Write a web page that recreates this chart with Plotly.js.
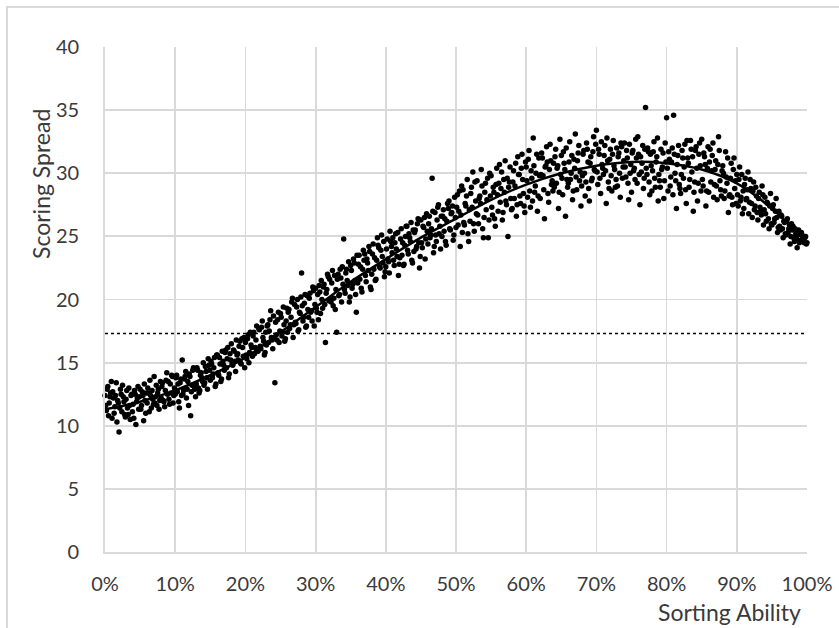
<!DOCTYPE html>
<html>
<head>
<meta charset="utf-8">
<script src="https://cdn.plot.ly/plotly-3.0.1.min.js"></script>
<style>
html,body{margin:0;padding:0;background:#fff;overflow:hidden;}
#wrap{position:relative;width:839px;height:628px;}
#chart{position:absolute;left:0;top:0;width:839px;height:628px;}
#frame{position:absolute;left:6px;top:6px;width:833px;height:622px;border-top:2px solid #d9d9d9;border-left:2px solid #d9d9d9;box-sizing:border-box;pointer-events:none;}
</style>
</head>
<body>
<div id="wrap"><div id="chart"></div><div id="frame"></div></div>
<script>
// Sorting ability (%) for the first group of points
const sortingAbilityA = [
0,0.2,0.4,0.6,0.8, 1,1.2,1.4,1.6,1.8, 2,2.2,2.4,2.6,2.8, 3,3.2,3.4,3.6,3.8, 4,4.2,4.4,4.6,4.8,
5,5.2,5.4,5.6,5.8, 6,6.2,6.4,6.6,6.8, 7,7.2,7.4,7.6,7.8, 8,8.2,8.4,8.6,8.8, 9,9.2,9.4,9.6,9.8,
10,10.2,10.4,10.6,10.8, 11,11.2,11.4,11.6,11.8, 12,12.2,12.4,12.6,12.8, 13,13.2,13.4,13.6,13.8, 14,14.2,14.4,14.6,14.8,
15,15.2,15.4,15.6,15.8, 16,16.2,16.4,16.6,16.8, 17,17.2,17.4,17.6,17.8, 18,18.2,18.4,18.6,18.8, 19,19.2,19.4,19.6,19.8,
20,20.2,20.4,20.6,20.8, 21,21.2,21.4,21.6,21.8, 22,22.2,22.4,22.6,22.8, 23,23.2,23.4,23.6,23.8, 24,24.2,24.4,24.6,24.8,
25,25.2,25.4,25.6,25.8, 26,26.2,26.4,26.6,26.8, 27,27.2,27.4,27.6,27.8, 28,28.2,28.4,28.6,28.8, 29,29.2,29.4,29.6,29.8,
30,30.2,30.4,30.6,30.8, 31,31.2,31.4,31.6,31.8, 32,32.2,32.4,32.6,32.8, 33,33.2,33.4,33.6,33.8, 34,34.2,34.4,34.6,34.8,
35,35.2,35.4,35.6,35.8, 36,36.2,36.4,36.6,36.8, 37,37.2,37.4,37.6,37.8, 38,38.2,38.4,38.6,38.8, 39,39.2,39.4,39.6,39.8,
40,40.2,40.4,40.6,40.8, 41,41.2,41.4,41.6,41.8, 42,42.2,42.4,42.6,42.8, 43,43.2,43.4,43.6,43.8, 44,44.2,44.4,44.6,44.8,
45,45.2,45.4,45.6,45.8, 46,46.2,46.4,46.6,46.8, 47,47.2,47.4,47.6,47.8, 48,48.2,48.4,48.6,48.8, 49,49.2,49.4,49.6,49.8,
50,50.2,50.4,50.6,50.8, 51,51.2,51.4,51.6,51.8, 52,52.2,52.4,52.6,52.8, 53,53.2,53.4,53.6,53.8, 54,54.2,54.4,54.6,54.8,
55,55.2,55.4,55.6,55.8, 56,56.2,56.4,56.6,56.8, 57,57.2,57.4,57.6,57.8, 58,58.2,58.4,58.6,58.8, 59,59.2,59.4,59.6,59.8,
60,60.2,60.4,60.6,60.8, 61,61.2,61.4,61.6,61.8, 62,62.2,62.4,62.6,62.8, 63,63.2,63.4,63.6,63.8, 64,64.2,64.4,64.6,64.8,
65,65.2,65.4,65.6,65.8, 66,66.2,66.4,66.6,66.8, 67,67.2,67.4,67.6,67.8, 68,68.2,68.4,68.6,68.8, 69,69.2,69.4,69.6,69.8,
70,70.2,70.4,70.6,70.8, 71,71.2,71.4,71.6,71.8, 72,72.2,72.4,72.6,72.8, 73,73.2,73.4,73.6,73.8, 74,74.2,74.4,74.6,74.8,
75,75.2,75.4,75.6,75.8, 76,76.2,76.4,76.6,76.8, 77,77.2,77.4,77.6,77.8, 78,78.2,78.4,78.6,78.8, 79,79.2,79.4,79.6,79.8,
80,80.2,80.4,80.6,80.8, 81,81.2,81.4,81.6,81.8, 82,82.2,82.4,82.6,82.8, 83,83.2,83.4,83.6,83.8, 84,84.2,84.4,84.6,84.8,
85,85.2,85.4,85.6,85.8, 86,86.2,86.4,86.6,86.8, 87,87.2,87.4,87.6,87.8, 88,88.2,88.4,88.6,88.8, 89,89.2,89.4,89.6,89.8,
90,90.2,90.4,90.6,90.8, 91,91.2,91.4,91.6,91.8, 92,92.2,92.4,92.6,92.8, 93,93.2,93.4,93.6,93.8, 94,94.2,94.4,94.6,94.8,
95,95.2,95.4,95.6,95.8, 96,96.2,96.4,96.6,96.8, 97,97.2,97.4,97.6,97.8, 98,98.2,98.4,98.6,98.8, 99,99.2,99.4,99.6,99.8,
100
];

// Scoring spread for the first group
const scoringSpreadA = [
12.4,11.2,13.1,11.8,12.6, 10.6,12.2,11.5,13.4,12.0, 9.5,12.9,11.1,12.3,10.9, 12.1,11.4,13.0,10.5,12.5, 11.7,12.8,10.1,12.2,11.3,
12.9,11.6,12.4,13.3,11.0, 11.8,12.6,13.6,11.4,12.1, 13.9,12.3,11.6,12.9,12.0, 12.2,13.4,11.9,12.8,14.2, 13.5,11.7,12.6,13.9,12.4,
12.5,14.0,13.3,11.4,13.7, 15.2,12.8,13.9,12.2,13.5, 14.1,10.8,13.2,14.6,12.9, 13.3,14.4,12.6,14.0,13.8, 15.0,13.4,14.3,12.9,14.8,
13.6,14.9,14.1,15.4,13.3, 15.6,14.0,14.9,13.7,15.1, 14.4,16.0,15.3,13.8,15.7, 16.5,14.8,15.9,14.3,15.6, 15.2,16.7,14.9,16.2,17.0,
16.6,15.3,17.2,15.8,16.4, 15.5,17.4,16.2,17.9,15.9, 17.6,16.1,18.3,16.7,15.8, 16.4,18.0,17.5,19.1,16.8, 18.7,13.4,17.2,18.4,16.6,
18.9,17.1,19.4,16.7,18.3, 17.4,19.2,18.0,19.8,17.0, 19.6,18.1,20.0,17.6,18.9, 22.1,18.3,19.7,17.8,20.3, 18.6,20.5,19.1,21.0,17.9,
20.9,19.0,18.4,20.6,21.5, 19.3,21.2,16.6,20.8,21.8, 21.6,19.8,22.3,20.1,19.2, 17.4,22.0,20.4,21.7,22.6, 24.8,20.5,22.4,21.1,19.8,
22.7,20.9,23.2,21.5,19.0, 21.3,23.5,22.6,20.6,23.9, 23.6,21.4,22.9,24.2,21.0, 22.0,24.4,23.3,21.6,24.9, 24.1,22.5,25.1,22.9,21.8,
22.6,24.8,23.0,25.4,24.2, 24.9,22.7,25.2,23.4,21.9, 23.3,25.6,24.5,22.8,25.0, 25.8,23.6,24.9,26.1,22.9, 23.8,25.5,24.2,26.4,22.5,
26.3,24.1,25.7,23.2,26.8, 24.4,26.6,25.1,29.6,23.7, 26.9,24.6,27.3,25.2,24.0, 25.0,27.1,26.4,24.3,27.6, 27.8,25.5,26.9,24.7,28.1,
25.7,28.3,27.0,24.2,29.0, 28.7,25.9,27.4,29.5,24.6, 26.2,28.9,30.1,25.4,27.8, 29.4,26.0,28.2,30.3,25.6, 26.5,29.2,27.9,24.9,30.0,
29.8,26.7,28.5,25.8,30.4, 27.0,30.7,28.8,26.3,29.5, 31.0,27.5,25.0,29.3,28.0, 27.2,30.2,29.0,26.6,31.3, 29.9,27.6,31.5,28.4,26.9,
30.5,28.1,31.8,27.3,29.6, 32.8,28.5,30.0,27.0,31.2, 28.0,31.6,29.8,26.4,30.6, 30.9,27.7,32.3,29.1,28.6, 28.9,31.9,30.4,27.2,32.7,
31.4,28.3,30.8,26.6,29.5, 29.2,32.5,30.0,27.9,31.1, 33.1,28.7,31.6,29.4,27.4, 29.8,31.8,28.2,32.4,30.9, 27.8,31.3,29.6,32.9,30.2,
33.4,29.1,31.5,28.4,30.7, 29.9,32.2,27.6,31.0,28.8, 31.9,28.6,32.6,30.3,29.5, 29.0,31.6,28.1,32.1,30.5, 32.4,29.7,31.2,27.9,30.0,
28.5,31.8,30.4,32.7,29.2, 31.5,27.5,30.1,32.2,29.6, 35.2,29.9,31.7,28.3,30.6, 30.2,32.5,28.9,31.3,27.8, 29.4,31.9,30.5,28.0,32.4,
34.4,28.6,31.1,29.7,32.0, 34.6,30.0,27.2,31.4,29.1, 28.4,31.8,29.6,32.3,27.6, 31.2,28.9,32.6,30.1,27.0, 29.3,32.1,27.8,31.5,30.6,
32.7,29.0,31.3,27.4,30.4, 28.5,31.9,30.2,32.4,29.1, 31.0,27.9,32.9,29.4,28.2, 30.6,28.0,31.7,29.2,26.9, 28.3,30.8,27.5,31.2,29.4,
29.9,27.4,30.5,28.1,26.8, 27.2,29.6,28.0,30.1,27.7, 28.8,26.5,29.3,27.4,28.2, 26.3,28.5,27.0,29.0,25.9, 28.1,26.2,27.6,25.6,28.4,
25.9,27.5,26.4,28.0,25.3, 27.0,25.5,26.6,24.9,26.1, 25.1,26.4,25.6,24.4,26.0, 25.8,24.6,25.2,24.1,25.5, 24.6,25.3,24.8,24.5,25.0,
24.5
];

// Sorting ability (%) for the second group of points
const sortingAbilityB = [
0.1,0.3,0.5,0.7,0.9, 1.1,1.3,1.5,1.7,1.9, 2.1,2.3,2.5,2.7,2.9, 3.1,3.3,3.5,3.7,3.9, 4.1,4.3,4.5,4.7,4.9,
5.1,5.3,5.5,5.7,5.9, 6.1,6.3,6.5,6.7,6.9, 7.1,7.3,7.5,7.7,7.9, 8.1,8.3,8.5,8.7,8.9, 9.1,9.3,9.5,9.7,9.9,
10.1,10.3,10.5,10.7,10.9, 11.1,11.3,11.5,11.7,11.9, 12.1,12.3,12.5,12.7,12.9, 13.1,13.3,13.5,13.7,13.9, 14.1,14.3,14.5,14.7,14.9,
15.1,15.3,15.5,15.7,15.9, 16.1,16.3,16.5,16.7,16.9, 17.1,17.3,17.5,17.7,17.9, 18.1,18.3,18.5,18.7,18.9, 19.1,19.3,19.5,19.7,19.9,
20.1,20.3,20.5,20.7,20.9, 21.1,21.3,21.5,21.7,21.9, 22.1,22.3,22.5,22.7,22.9, 23.1,23.3,23.5,23.7,23.9, 24.1,24.3,24.5,24.7,24.9,
25.1,25.3,25.5,25.7,25.9, 26.1,26.3,26.5,26.7,26.9, 27.1,27.3,27.5,27.7,27.9, 28.1,28.3,28.5,28.7,28.9, 29.1,29.3,29.5,29.7,29.9,
30.1,30.3,30.5,30.7,30.9, 31.1,31.3,31.5,31.7,31.9, 32.1,32.3,32.5,32.7,32.9, 33.1,33.3,33.5,33.7,33.9, 34.1,34.3,34.5,34.7,34.9,
35.1,35.3,35.5,35.7,35.9, 36.1,36.3,36.5,36.7,36.9, 37.1,37.3,37.5,37.7,37.9, 38.1,38.3,38.5,38.7,38.9, 39.1,39.3,39.5,39.7,39.9,
40.1,40.3,40.5,40.7,40.9, 41.1,41.3,41.5,41.7,41.9, 42.1,42.3,42.5,42.7,42.9, 43.1,43.3,43.5,43.7,43.9, 44.1,44.3,44.5,44.7,44.9,
45.1,45.3,45.5,45.7,45.9, 46.1,46.3,46.5,46.7,46.9, 47.1,47.3,47.5,47.7,47.9, 48.1,48.3,48.5,48.7,48.9, 49.1,49.3,49.5,49.7,49.9,
50.1,50.3,50.5,50.7,50.9, 51.1,51.3,51.5,51.7,51.9, 52.1,52.3,52.5,52.7,52.9, 53.1,53.3,53.5,53.7,53.9, 54.1,54.3,54.5,54.7,54.9,
55.1,55.3,55.5,55.7,55.9, 56.1,56.3,56.5,56.7,56.9, 57.1,57.3,57.5,57.7,57.9, 58.1,58.3,58.5,58.7,58.9, 59.1,59.3,59.5,59.7,59.9,
60.1,60.3,60.5,60.7,60.9, 61.1,61.3,61.5,61.7,61.9, 62.1,62.3,62.5,62.7,62.9, 63.1,63.3,63.5,63.7,63.9, 64.1,64.3,64.5,64.7,64.9,
65.1,65.3,65.5,65.7,65.9, 66.1,66.3,66.5,66.7,66.9, 67.1,67.3,67.5,67.7,67.9, 68.1,68.3,68.5,68.7,68.9, 69.1,69.3,69.5,69.7,69.9,
70.1,70.3,70.5,70.7,70.9, 71.1,71.3,71.5,71.7,71.9, 72.1,72.3,72.5,72.7,72.9, 73.1,73.3,73.5,73.7,73.9, 74.1,74.3,74.5,74.7,74.9,
75.1,75.3,75.5,75.7,75.9, 76.1,76.3,76.5,76.7,76.9, 77.1,77.3,77.5,77.7,77.9, 78.1,78.3,78.5,78.7,78.9, 79.1,79.3,79.5,79.7,79.9,
80.1,80.3,80.5,80.7,80.9, 81.1,81.3,81.5,81.7,81.9, 82.1,82.3,82.5,82.7,82.9, 83.1,83.3,83.5,83.7,83.9, 84.1,84.3,84.5,84.7,84.9,
85.1,85.3,85.5,85.7,85.9, 86.1,86.3,86.5,86.7,86.9, 87.1,87.3,87.5,87.7,87.9, 88.1,88.3,88.5,88.7,88.9, 89.1,89.3,89.5,89.7,89.9,
90.1,90.3,90.5,90.7,90.9, 91.1,91.3,91.5,91.7,91.9, 92.1,92.3,92.5,92.7,92.9, 93.1,93.3,93.5,93.7,93.9, 94.1,94.3,94.5,94.7,94.9,
95.1,95.3,95.5,95.7,95.9, 96.1,96.3,96.5,96.7,96.9, 97.1,97.3,97.5,97.7,97.9, 98.1,98.3,98.5,98.7,98.9, 99.1,99.3,99.5,99.7,99.9
];

// Scoring spread for the second group
const scoringSpreadB = [
11.6,12.9,10.8,12.3,13.5, 12.7,11.0,12.4,10.3,11.8, 11.4,12.5,13.2,11.9,10.7, 12.8,10.9,11.6,12.4,11.1, 10.6,12.5,11.9,13.1,12.3,
11.3,12.7,10.4,12.0,12.6, 13.0,11.1,12.4,12.8,11.7, 11.8,13.2,12.6,11.3,13.5, 13.1,12.0,11.5,13.6,12.5, 12.1,13.3,14.0,11.8,13.0,
13.8,12.7,11.9,13.4,12.4, 12.5,13.7,14.3,12.9,11.6, 13.9,12.7,14.4,13.1,12.3, 14.6,13.0,12.8,14.2,13.5, 13.2,14.7,13.8,15.3,14.4,
15.1,13.8,14.6,13.1,15.6, 14.2,15.4,13.5,15.9,14.8, 15.8,14.6,16.2,14.1,15.2, 14.9,16.0,15.1,16.8,15.7, 16.3,15.0,16.9,15.5,14.6,
15.6,16.9,15.0,17.4,16.2, 17.1,15.7,16.8,16.0,17.7, 16.3,17.8,17.0,15.6,17.4, 17.9,16.6,18.4,17.0,16.1, 17.0,18.2,16.8,19.0,17.5,
18.6,17.4,18.0,16.9,19.3, 19.0,17.7,18.6,20.1,18.0, 18.2,19.4,17.5,19.0,20.2, 19.5,18.6,20.4,17.9,19.2, 20.1,19.0,18.3,20.7,19.6,
19.3,20.4,21.1,18.9,20.0, 21.0,19.6,20.5,22.0,19.9, 20.0,21.3,19.5,21.9,20.8, 21.6,20.3,22.4,19.8,21.2, 20.8,22.1,21.5,23.0,20.2,
22.3,21.2,22.9,20.4,23.5, 22.8,21.6,20.9,22.4,23.1, 21.9,23.2,22.3,23.8,20.8, 23.6,22.4,21.5,23.1,24.3, 22.6,23.9,23.4,24.6,22.2,
24.0,23.2,22.1,24.6,23.7, 23.1,24.5,24.0,25.3,22.8, 24.8,23.5,22.7,24.3,25.8, 23.9,25.2,24.6,23.1,25.5, 25.3,24.0,26.0,24.5,23.4,
24.5,25.8,26.5,24.8,25.4, 26.0,24.9,25.6,27.0,24.2, 25.1,26.3,27.5,25.8,26.6, 26.6,25.4,24.6,26.2,27.2, 25.6,26.8,27.4,25.1,26.5,
27.3,25.9,28.6,26.7,25.3, 26.1,27.6,28.2,25.2,27.1, 28.4,27.3,26.0,29.3,26.8, 26.7,28.0,27.6,29.0,24.9, 28.5,27.1,29.6,26.3,28.2,
27.3,28.9,26.4,29.1,28.3, 29.2,27.7,30.1,26.9,28.5, 27.8,29.6,28.9,30.5,27.1, 29.3,28.0,30.8,27.5,29.9, 28.2,30.4,29.5,27.4,30.9,
29.4,31.1,28.6,30.2,27.8, 30.6,29.0,31.5,28.2,29.8, 29.9,31.2,28.7,30.5,32.1, 28.4,30.3,31.0,29.4,30.8, 31.3,29.2,30.6,28.5,29.9,
29.6,31.7,30.3,32.0,28.9, 30.9,29.5,31.4,28.6,30.4, 29.7,31.0,32.2,30.1,29.0, 31.5,30.0,29.3,31.9,28.8, 30.8,29.4,31.7,30.3,32.3,
30.1,31.9,29.6,32.5,30.4, 31.4,30.2,32.8,29.3,31.1, 29.8,31.5,30.6,28.9,32.0, 31.3,30.0,32.4,29.6,31.0, 30.5,31.8,29.2,32.3,30.7,
31.6,30.2,29.5,31.2,32.9, 29.9,31.3,30.8,28.8,31.9, 30.4,32.0,29.3,31.5,28.6, 31.7,29.6,30.9,32.8,29.9, 28.9,30.3,31.6,29.4,30.9,
30.4,31.7,29.0,30.9,28.3, 31.5,29.4,30.7,32.2,28.8, 29.9,31.2,30.5,28.7,32.6, 30.8,29.5,31.9,31.3,28.5, 31.8,30.4,29.2,32.4,28.6,
29.5,31.6,30.7,28.6,32.1, 30.9,29.3,31.4,28.1,30.3, 29.0,30.7,31.8,28.7,30.2, 30.0,28.6,29.7,31.2,28.2, 29.6,28.1,30.3,28.8,27.6,
28.3,29.5,27.8,29.9,28.6, 29.1,27.9,28.7,26.8,29.5, 27.6,28.6,27.1,28.9,26.9, 28.0,27.3,26.7,28.3,27.1, 26.8,27.7,26.4,27.4,26.0,
27.2,26.1,27.0,26.5,25.7, 25.8,26.7,25.6,26.2,25.2, 26.2,25.3,25.9,25.0,25.5, 24.9,25.6,24.8,25.1,24.5, 24.7,25.1,24.6,24.9,24.4
];

// Polynomial trend line
const trendX = [0,5,10,15,20,25,30,35,40,45,50,55,60,65,70,75,80,85,90,95,100];
const trendY = [11.3,11.9,12.8,14.0,15.4,17.4,19.4,21.4,23.2,24.9,26.4,27.9,29.1,30.0,30.6,30.9,30.8,30.3,29.2,27.2,24.5];

// Dotted reference level
const refX = [0,100];
const refY = [17.3,17.3];

const xTickVals = [0,10,20,30,40,50,60,70,80,90,100];
const yTickVals = [0,5,10,15,20,25,30,35,40];

const FONT = 'Lato, "Open Sans", sans-serif';
const TXT = '#3a3a3a';
const GRID = '#d9d9d9';

const traces = [
  {x: refX, y: refY, type: 'scatter', mode: 'lines', line: {color: '#000', width: 1.5, dash: 'dot'}, cliponaxis: false},
  {x: sortingAbilityA.concat(sortingAbilityB), y: scoringSpreadA.concat(scoringSpreadB),
   type: 'scatter', mode: 'markers', marker: {color: '#000', size: 5.5}, cliponaxis: false},
  {x: trendX, y: trendY, type: 'scatter', mode: 'lines', line: {color: '#000', width: 2.5, shape: 'spline', smoothing: 1}, cliponaxis: false}
];

const layout = {
  width: 839, height: 628,
  margin: {l: 105, r: 32, t: 47, b: 76},
  paper_bgcolor: '#fff', plot_bgcolor: '#fff',
  showlegend: false,
  font: {family: FONT, size: 20, color: TXT},
  xaxis: {
    range: [0, 100], tickmode: 'array', tickvals: xTickVals,
    ticktext: xTickVals.map(v => v + '%'),
    showgrid: true, gridcolor: GRID, gridwidth: 1.8,
    zeroline: false, showline: true, linecolor: GRID, linewidth: 1.8,
    ticks: '', ticklabelstandoff: 13,
    tickfont: {family: FONT, size: 20, color: TXT}
  },
  yaxis: {
    range: [0, 40], tickmode: 'array', tickvals: yTickVals,
    showgrid: true, gridcolor: GRID, gridwidth: 1.8,
    zeroline: false, showline: true, linecolor: GRID, linewidth: 1.8,
    ticks: '', ticklabelstandoff: 20,
    tickfont: {family: FONT, size: 20, color: TXT}
  },
  annotations: [
    {text: 'Scoring Spread', xref: 'paper', yref: 'paper', x: -0.0912, y: 0.7287,
     xanchor: 'center', yanchor: 'middle', textangle: -90, showarrow: false,
     font: {family: FONT, size: 23, color: TXT}},
    {text: 'Sorting Ability', xref: 'paper', yref: 'paper', x: 0.9943, y: -0.118,
     xanchor: 'right', yanchor: 'middle', showarrow: false,
     font: {family: FONT, size: 23, color: TXT}}
  ]
};

Plotly.newPlot('chart', traces, layout, {displayModeBar: false, staticPlot: true});
</script>
</body>
</html>
